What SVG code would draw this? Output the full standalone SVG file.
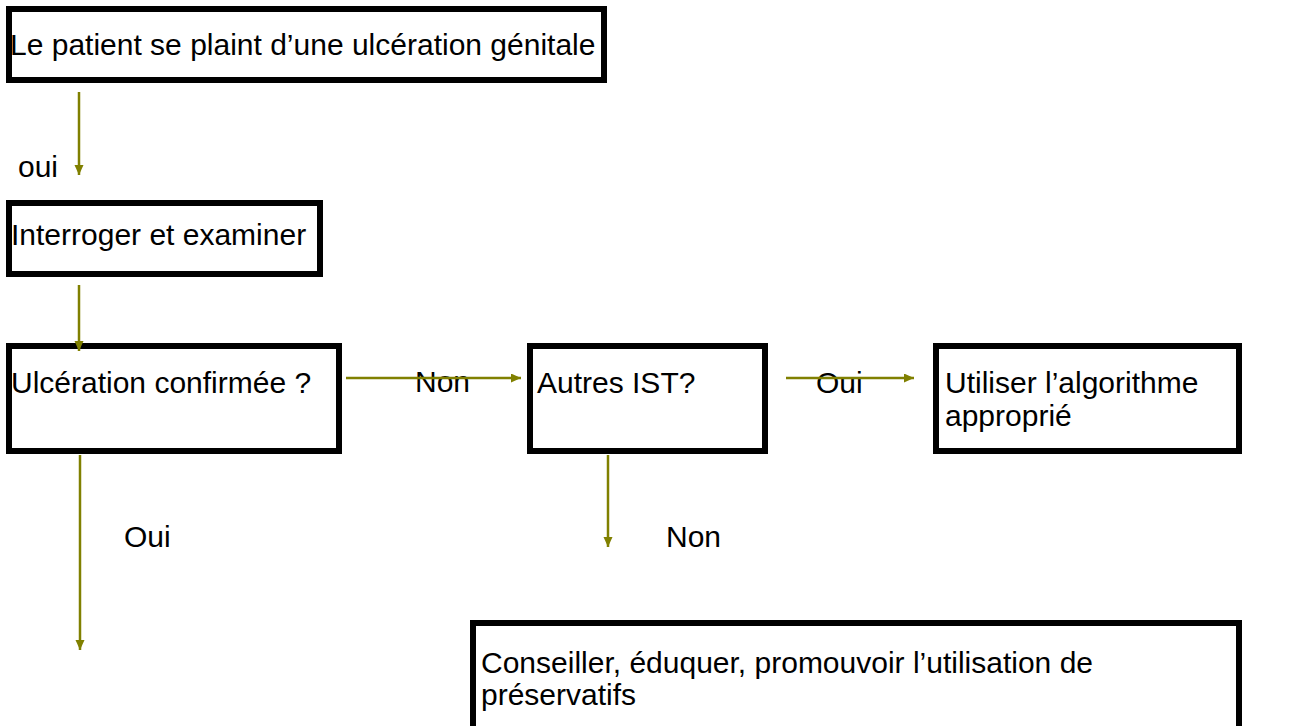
<svg xmlns="http://www.w3.org/2000/svg" width="1309" height="726" viewBox="0 0 1309 726">
  <style>
    .box { fill: #ffffff; stroke: #000000; stroke-width: 6; }
    .txt { font-family: "Liberation Sans", Arial, sans-serif; font-size: 30px; fill: #000000; }
    .edge { stroke: #808000; stroke-width: 2.5; fill: none; }
  </style>
  <defs>
    <marker id="arrow" markerUnits="userSpaceOnUse" markerWidth="12" markerHeight="10" refX="10" refY="4.5" orient="auto">
      <path d="M0,0 L10,4.5 L0,9 Z" fill="#808000"/>
    </marker>
  </defs>

  <rect width="1309" height="726" fill="#ffffff"/>

  <!-- flowchart steps -->
  <g id="node-plainte">
    <rect class="box" x="9" y="9" width="595" height="71"/>
    <text class="txt" x="10" y="55">Le patient se plaint d’une ulcération génitale</text>
  </g>
  <g id="node-interroger">
    <rect class="box" x="9" y="203" width="311" height="71"/>
    <text class="txt" x="11" y="245">Interroger et examiner</text>
  </g>
  <g id="node-ulceration">
    <rect class="box" x="9" y="346" width="330" height="105"/>
    <text class="txt" x="11" y="393">Ulcération confirmée ?</text>
  </g>
  <g id="node-autres-ist">
    <rect class="box" x="530" y="346" width="235" height="105"/>
    <text class="txt" x="537" y="393">Autres IST?</text>
  </g>
  <g id="node-algorithme">
    <rect class="box" x="936" y="346" width="303" height="105"/>
    <text class="txt" x="945" y="393">Utiliser l’algorithme</text>
    <text class="txt" x="945" y="426">approprié</text>
  </g>
  <g id="node-conseiller">
    <rect class="box" x="473" y="623" width="766" height="112"/>
    <text class="txt" x="481" y="673">Conseiller, éduquer, promouvoir l’utilisation de</text>
    <text class="txt" x="481" y="705">préservatifs</text>
  </g>

  <!-- branch labels -->
  <g id="labels">
    <text class="txt" x="18" y="177">oui</text>
    <text class="txt" x="415" y="392">Non</text>
    <text class="txt" x="816" y="393">Oui</text>
    <text class="txt" x="124" y="547">Oui</text>
    <text class="txt" x="666" y="547">Non</text>
  </g>

  <!-- connectors -->
  <g id="connectors">
    <line class="edge" x1="79" y1="92" x2="79" y2="175" marker-end="url(#arrow)"/>
    <line class="edge" x1="79" y1="285" x2="79" y2="351" marker-end="url(#arrow)"/>
    <line class="edge" x1="346" y1="378" x2="521" y2="378" marker-end="url(#arrow)"/>
    <line class="edge" x1="786" y1="378" x2="914" y2="378" marker-end="url(#arrow)"/>
    <line class="edge" x1="80" y1="455" x2="80" y2="650" marker-end="url(#arrow)"/>
    <line class="edge" x1="608" y1="455" x2="608" y2="547" marker-end="url(#arrow)"/>
  </g>
</svg>
